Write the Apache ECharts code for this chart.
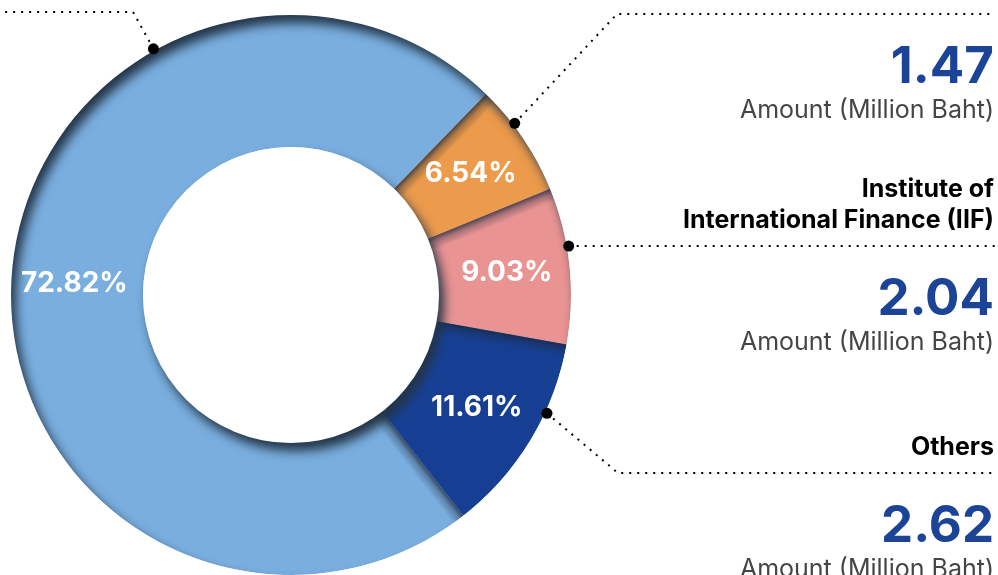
<!DOCTYPE html>
<html>
<head>
<meta charset="utf-8">
<title>Donut</title>
<script src="https://cdn.jsdelivr.net/npm/echarts@6.0.0/dist/echarts.min.js"></script>
<style>
  html, body { margin: 0; padding: 0; background: #fff; }
  #main { width: 998px; height: 575px; }
</style>
</head>
<body>
<div id="main"></div>
<script>
// values (first two names are cut off in the picture)
var categories = ['', '', 'Institute of\nInternational Finance (IIF)', 'Others'];
var shares = [72.82, 6.54, 9.03, 11.61];      // % of total
var amounts = [16.43, 1.47, 2.04, 2.62];      // million baht
var amountLabel = 'Amount (Million Baht)';
var colors = ['#79aedf', '#ec9a4b', '#ea9393', '#163f94'];

// layout
var CX = 291, CY = 295, R0 = 148, R1 = 280, RDOT = 282;
var START = 308;
var SHADOW = '#223447';
var FONT = 'Inter, "Noto Sans", sans-serif';
// where each leader line leaves the ring (deg, counter-clockwise from 3 o'clock)
var leaders = [
    { angle: 119.2, elbowX: 133, lineY: 12, endX: 0 },
    { angle: 37.5, elbowX: 617, lineY: 14, endX: 995 },
    { angle: 10, elbowX: null, lineY: 246, endX: 995 },
    { angle: -24.8, elbowX: 618, lineY: 473, endX: 995 }
];

var myChart = echarts.init(document.getElementById('main'), null, { renderer: 'canvas' });

var clear = { color: 'rgba(0,0,0,0)', borderWidth: 0 };

function pieData(styleFn) {
    return shares.map(function (v, i) {
        return { name: categories[i], value: v, itemStyle: styleFn(i) };
    });
}

// base ring
var series = [{
    type: 'pie', z: 2, silent: true,
    center: [CX, CY], radius: [R0, R1], startAngle: START,
    label: { show: false }, labelLine: { show: false },
    data: pieData(function (i) { return { color: colors[i], borderWidth: 0 }; })
}];

// soft shade just past each slice border (on the clockwise side)
var acc = 0;
shares.forEach(function (s) {
    acc += s;
    var t = (START - acc * 3.6) * Math.PI / 180;
    var W = 13;
    series.push({
        type: 'pie', z: 3, silent: true,
        center: [CX, CY], radius: [R0, R1],
        startAngle: START - acc * 3.6, clockwise: true,
        label: { show: false }, labelLine: { show: false },
        data: [
            { value: 20, itemStyle: { borderWidth: 0, color: {
                type: 'linear', global: true,
                x: CX, y: CY, x2: CX + W * Math.sin(t), y2: CY + W * Math.cos(t),
                colorStops: [
                    { offset: 0, color: 'rgba(28,40,58,0.75)' },
                    { offset: 0.4, color: 'rgba(28,40,58,0.32)' },
                    { offset: 1, color: 'rgba(28,40,58,0)' }
                ]
            } } },
            { value: 340, itemStyle: { color: 'rgba(0,0,0,0)', opacity: 0 } }
        ]
    });
});

// white masks outside the ring and in the hole, their shadows shade the upper-left edges
[[R1, 1600], [0, R0]].forEach(function (r) {
    series.push({
        type: 'pie', z: 4, silent: true,
        center: [CX, CY], radius: r,
        label: { show: false }, labelLine: { show: false },
        data: [{ value: 1, itemStyle: { color: '#ffffff', borderWidth: 0, shadowBlur: 11, shadowColor: SHADOW, shadowOffsetX: 5, shadowOffsetY: 8 } }]
    });
});

// percentages on the ring
series.push({
    type: 'pie', z: 5, silent: true,
    center: [CX, CY], radius: [R0, R1], startAngle: START,
    label: {
        show: true, position: 'inside',
        color: '#ffffff', fontFamily: FONT, fontWeight: 'bold', fontSize: 28,
        formatter: function (p) { return shares[p.dataIndex].toFixed(2) + '%'; }
    },
    labelLine: { show: false },
    data: pieData(function () { return clear; })
});

// amounts under the leader lines (these carry the dotted lines)
series.push({
    type: 'pie', z: 5, silent: true, avoidLabelOverlap: false,
    center: [CX, CY], radius: [R0, R1], startAngle: START,
    label: {
        show: true, color: '#444444',
        formatter: function (p) {
            if (p.dataIndex === 0) return ' ';
            return '{v|' + amounts[p.dataIndex].toFixed(2) + '}\n{a|' + amountLabel + '}';
        },
        rich: {
            v: { fontFamily: FONT, fontWeight: 'bold', fontSize: 51, color: '#1b4497', lineHeight: 58, align: 'right' },
            a: { fontFamily: FONT, fontSize: 25, color: '#454545', lineHeight: 26, align: 'right' }
        }
    },
    labelLine: { show: true, lineStyle: { color: '#000', width: 2, type: [2, 6] } },
    labelLayout: function (p) {
        var L = leaders[p.dataIndex];
        var a = L.angle * Math.PI / 180;
        var sx = CX + RDOT * Math.cos(a), sy = CY - RDOT * Math.sin(a);
        var ex = L.elbowX == null ? sx : L.elbowX;
        return {
            x: L.endX === 0 ? 0 : 994, y: L.lineY + 25,
            align: 'right', verticalAlign: 'top',
            labelLinePoints: [[sx, sy], [ex, L.lineY], [L.endX, L.lineY]]
        };
    },
    data: pieData(function () { return clear; })
});

// names above the leader lines
series.push({
    type: 'pie', z: 5, silent: true, avoidLabelOverlap: false,
    center: [CX, CY], radius: [R0, R1], startAngle: START,
    label: {
        show: true, formatter: '{b}',
        fontFamily: FONT, fontWeight: 'bold', fontSize: 25, color: '#000', lineHeight: 31, align: 'right'
    },
    labelLine: { show: false },
    labelLayout: function (p) {
        var L = leaders[p.dataIndex];
        return { x: 994, y: L.lineY - 10, align: 'right', verticalAlign: 'bottom' };
    },
    data: pieData(function () { return clear; })
});

// dots where the leader lines touch the ring
series.push({
    type: 'scatter', coordinateSystem: 'polar', z: 6, silent: true,
    symbolSize: 11, itemStyle: { color: '#000', opacity: 1 },
    data: leaders.map(function (l) { return [1, (l.angle + 360) % 360]; })
});

myChart.setOption({
    animation: false,
    backgroundColor: '#ffffff',
    polar: { center: [CX, CY], radius: [0, RDOT] },
    angleAxis: { type: 'value', min: 0, max: 360, startAngle: 0, clockwise: false, show: false },
    radiusAxis: { type: 'value', min: 0, max: 1, show: false },
    series: series
});
</script>
</body>
</html>
